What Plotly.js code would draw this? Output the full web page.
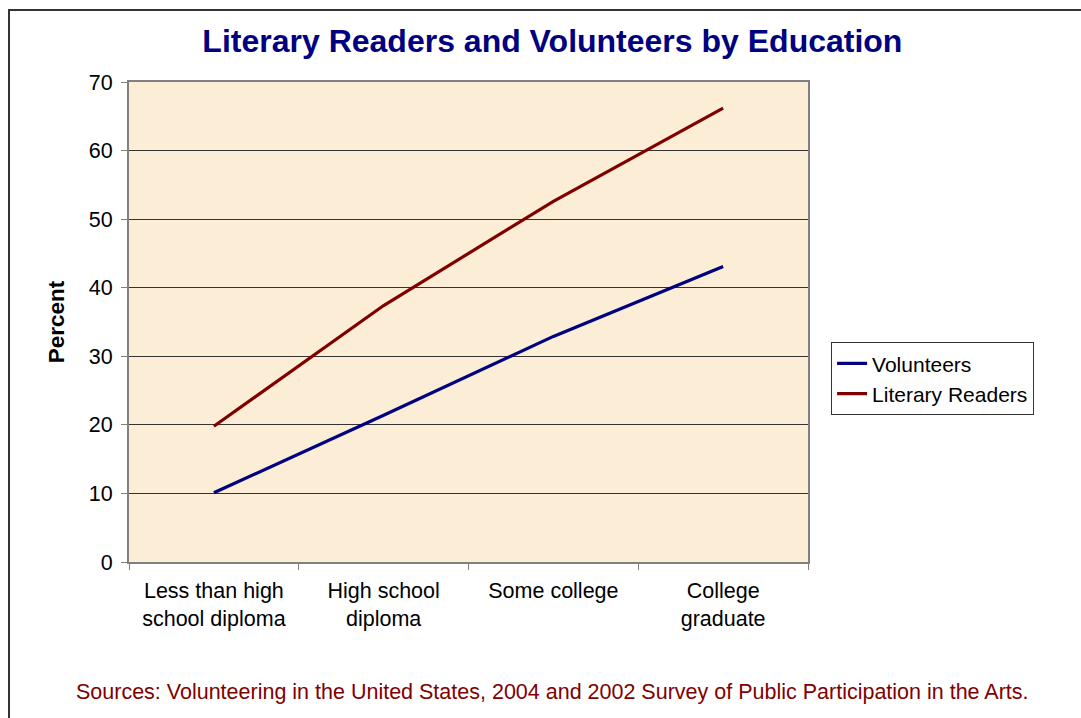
<!DOCTYPE html>
<html>
<head>
<meta charset="utf-8">
<script src="https://cdn.plot.ly/plotly-3.0.1.min.js"></script>
<style>
  html, body { margin: 0; padding: 0; background: #ffffff; }
  #wrap { position: relative; width: 1081px; height: 718px; overflow: hidden; }
  #chart { position: absolute; left: 0; top: 0; width: 1081px; height: 718px; }
  #frame { position: absolute; left: 8px; top: 9px; width: 1100px; height: 740px;
           border-left: 2px solid #333; border-top: 2px solid #333; pointer-events: none; }
</style>
</head>
<body>
<div id="wrap">
  <div id="chart"></div>
  <div id="frame"></div>
</div>
<script>
const categories = ["Less than high<br>school diploma", "High school<br>diploma", "Some college", "College<br>graduate"];
const volunteers = [10.1, 21.4, 32.9, 43.1];
const literaryReaders = [19.8, 37.4, 52.6, 66.2];
const yTicks = [0, 10, 20, 30, 40, 50, 60, 70];

const traces = [
  { x: categories, y: volunteers, name: "Volunteers", type: "scatter", mode: "lines",
    line: { color: "#000080", width: 3.2 } },
  { x: categories, y: literaryReaders, name: "Literary Readers", type: "scatter", mode: "lines",
    line: { color: "#800000", width: 3.2 } }
];

const layout = {
  width: 1081, height: 718,
  margin: { l: 129, r: 273, t: 82, b: 156 },
  paper_bgcolor: "#ffffff",
  plot_bgcolor: "#FBEDD6",
  font: { family: "Arial, Liberation Sans, sans-serif", color: "#000000", size: 21 },
  title: { text: "<b>Literary Readers and Volunteers by Education</b>",
           font: { family: "Arial, Liberation Sans, sans-serif", size: 32, color: "#000080" },
           x: 0.511, xref: "container", xanchor: "center",
           y: 0.943, yref: "container", yanchor: "middle" },
  xaxis: {
    type: "category", range: [-0.5, 3.5],
    showline: true, linecolor: "#808080", linewidth: 2, mirror: true,
    ticks: "outside", tickson: "boundaries", ticklen: 6, tickcolor: "#808080", tickwidth: 1,
    showgrid: false, zeroline: false, ticklabelstandoff: 8,
    tickfont: { size: 21.5, color: "#000000" }
  },
  yaxis: {
    range: [0, 70], tickvals: yTicks, ticktext: yTicks.map(String),
    showline: true, linecolor: "#808080", linewidth: 2, mirror: true,
    ticks: "outside", ticklen: 6, tickcolor: "#808080",
    showgrid: true, gridcolor: "#333333", gridwidth: 1, zeroline: false,
    ticklabelstandoff: 4,
    tickfont: { size: 21.5, color: "#000000" },
    title: { text: "<b>Percent</b>", font: { size: 22.5, color: "#000000" }, standoff: 18 }
  },
  showlegend: true,
  legend: {
    x: 1.034, xanchor: "left", y: 0.458, yanchor: "top",
    bordercolor: "#333333", borderwidth: 1, bgcolor: "#ffffff",
    font: { size: 21, color: "#000000" }, tracegroupgap: 0
  },
  annotations: [{
    text: "Sources: Volunteering in the United States, 2004 and 2002 Survey of Public Participation in the Arts.",
    xref: "paper", yref: "paper", x: (552 - 129) / 679, y: -0.271,
    xanchor: "center", yanchor: "middle", showarrow: false,
    font: { size: 21.5, color: "#800000" }
  }]
};

Plotly.newPlot("chart", traces, layout, { displayModeBar: false, staticPlot: true });
</script>
</body>
</html>
